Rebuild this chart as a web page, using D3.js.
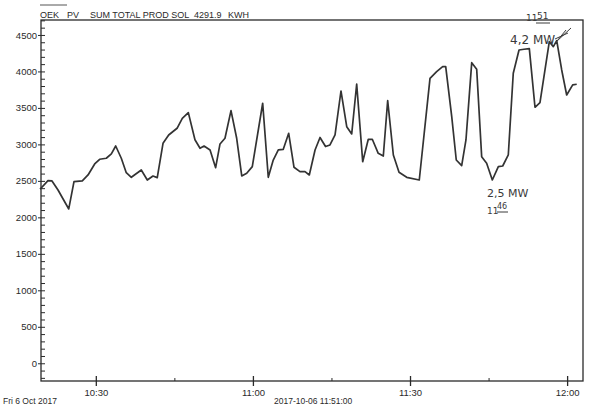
<!DOCTYPE html>
<html>
<head>
<meta charset="utf-8">
<script src="https://cdn.jsdelivr.net/npm/d3@7"></script>
<style>
  body { margin: 0; background: #fff; }
  svg text { font-family: "Liberation Sans", Arial, sans-serif; fill: #2a2a2a; }
  .hand { font-family: "DejaVu Sans", sans-serif; fill: #3a3a3a; }
</style>
</head>
<body>
<div id="chart"></div>
<script>
// readings (time of day, kW)
const times = [
  '10:19:21','10:20:52','10:21:38','10:22:47','10:24:50','10:25:50','10:27:25','10:28:31','10:29:47','10:30:44',
  '10:32:00','10:32:58','10:33:48','10:34:52','10:35:49','10:36:47','10:38:41','10:39:50','10:40:55','10:41:44',
  '10:42:50','10:43:55','10:45:31','10:46:31','10:47:40','10:48:56','10:49:54','10:50:40','10:51:49','10:52:53',
  '10:53:43','10:54:40','10:55:49','10:56:54','10:57:52','10:58:49','10:59:53','11:01:52','11:02:56','11:03:53',
  '11:04:51','11:05:48','11:06:50','11:07:51','11:08:59','11:09:57','11:10:46','11:11:52','11:12:49','11:13:52',
  '11:14:43','11:15:41','11:16:49','11:17:55','11:18:52','11:19:49','11:20:58','11:22:02','11:22:48','11:23:56',
  '11:24:54','11:25:44','11:26:49','11:27:54','11:29:22','11:31:46','11:33:49','11:35:05','11:36:14','11:36:49',
  '11:37:58','11:38:50','11:39:52','11:40:41','11:41:47','11:42:44','11:43:41','11:44:38','11:45:43','11:46:52',
  '11:47:42','11:48:46','11:49:43','11:50:49','11:51:46','11:52:47','11:53:52','11:54:49','11:56:36','11:57:22',
  '11:58:01','11:58:58','11:59:55','12:01:04','12:01:50'
];
const values = [
  2385, 2503, 2499, 2375, 2115, 2489, 2499, 2581, 2732, 2796,
  2810, 2869, 2978, 2810, 2612, 2549, 2649, 2512, 2567, 2544,
  3015, 3129, 3221, 3358, 3435, 3063, 2947, 2978, 2924, 2681,
  3006, 3084, 3462, 3084, 2567, 2604, 2695, 3564, 2549, 2786,
  2924, 2933, 3152, 2686, 2626, 2626, 2581, 2924, 3095, 2971,
  2992, 3129, 3732, 3243, 3143, 3828, 2763, 3070, 3070, 2878,
  2841, 3599, 2855, 2618, 2549, 2512, 3906, 3997, 4065, 4065,
  3380, 2786, 2708, 3061, 4120, 4030, 2832, 2741, 2512, 2695,
  2704, 2855, 3975, 4294, 4304, 4312, 3509, 3572, 4408, 4340,
  4422, 4020, 3677, 3815, 3824
];
const yTickValues = [0, 500, 1000, 1500, 2000, 2500, 3000, 3500, 4000, 4500];
const xTickLabels = ['10:30', '11:00', '11:30', '12:00'];
const xMinorLabels = ['10:45', '11:15', '11:45'];
const titleParts = ['OEK', 'PV', 'SUM TOTAL PROD SOL', '4291.9', 'KWH'];
const day = '2017-10-06';

const width = 589;
const height = 406;
const plot = { left: 41, right: 583, top: 20, bottom: 381 };

const parseTime = d3.timeParse('%Y-%m-%d %H:%M:%S');
const toDate = t => parseTime(day + ' ' + (t.length === 5 ? t + ':00' : t));

const svg = d3.select('#chart').append('svg')
  .attr('width', width)
  .attr('height', height);

svg.append('rect').attr('width', width).attr('height', height).attr('fill', '#fff');

const x = d3.scaleTime()
  .domain([toDate('10:19:32'), toDate('12:03:02')])
  .range([plot.left, plot.right]);

const y = d3.scaleLinear()
  .domain([-243, 4705])
  .range([plot.bottom, plot.top]);

// y axis: labelled majors crossing the line, minor every 100 on the inside
const yMinor = d3.range(-200, 4701, 100);
svg.append('g')
  .attr('transform', `translate(${plot.left},0)`)
  .call(d3.axisRight(y).tickValues(yMinor).tickSize(4).tickFormat(''))
  .call(g => g.select('.domain').remove());
svg.append('g')
  .attr('transform', `translate(${plot.left},0)`)
  .call(d3.axisLeft(y).tickValues(yTickValues).tickSize(3).tickPadding(1).tickFormat(d3.format('d')))
  .call(g => g.select('.domain').remove())
  .call(g => g.selectAll('text').style('font-size', '9.5px'));

// x axis
svg.append('g')
  .attr('transform', `translate(0,${plot.bottom})`)
  .call(d3.axisTop(x).tickValues(xMinorLabels.map(toDate)).tickSize(3).tickFormat(''))
  .call(g => g.select('.domain').remove());
svg.append('g')
  .attr('transform', `translate(0,${plot.bottom})`)
  .call(d3.axisBottom(x).tickValues(xTickLabels.map(toDate)).tickSize(5).tickPadding(3)
    .tickFormat(d3.timeFormat('%H:%M')))
  .call(g => g.select('.domain').remove())
  .call(g => g.selectAll('.tick line').attr('y1', -5).attr('stroke-width', 1.3))
  .call(g => g.selectAll('text').style('font-size', '9.5px'));

svg.selectAll('.tick line').attr('stroke', '#2a2a2a');

// frame
svg.append('rect')
  .attr('x', plot.left).attr('y', plot.top)
  .attr('width', plot.right - plot.left).attr('height', plot.bottom - plot.top)
  .attr('fill', 'none').attr('stroke', '#2a2a2a').attr('stroke-width', 1.3);

// series
const line = d3.line()
  .x((d, i) => x(toDate(times[i])))
  .y(d => y(d));

svg.append('path')
  .datum(values)
  .attr('d', line)
  .attr('fill', 'none')
  .attr('stroke', '#333')
  .attr('stroke-width', 1.7)
  .attr('stroke-linejoin', 'round');

// header
svg.append('line').attr('x1', 40).attr('x2', 67).attr('y1', 5).attr('y2', 5)
  .attr('stroke', '#555').attr('stroke-width', 1);
const titleX = [40, 67, 90, 194, 228];
svg.selectAll('.title').data(titleParts).join('text')
  .attr('class', 'title')
  .attr('x', (d, i) => titleX[i])
  .attr('y', 18)
  .style('font-size', '9px')
  .text(d => d);

// footer
svg.append('text').attr('x', 3).attr('y', 404).style('font-size', '8.5px').text('Fri 6 Oct 2017');
svg.append('text').attr('x', 274).attr('y', 404).style('font-size', '8.5px').text(day + ' 11:51:00');

// handwritten notes
const hand = svg.append('g');
hand.append('text').attr('class', 'hand').attr('x', 526).attr('y', 21).style('font-size', '9px').text('11');
hand.append('text').attr('class', 'hand').attr('x', 537).attr('y', 19).style('font-size', '9px').text('51');
hand.append('line').attr('x1', 536).attr('x2', 550).attr('y1', 23).attr('y2', 23).attr('stroke', '#3a3a3a');
hand.append('text').attr('class', 'hand').attr('x', 510).attr('y', 44).style('font-size', '12px').text('4,2 MW');
hand.append('path')
  .attr('d', 'M556,42 L571,28 M557,41 L566,30 M555,39 L568,33')
  .attr('fill', 'none').attr('stroke', '#3a3a3a').attr('stroke-width', 1);
hand.append('text').attr('class', 'hand').attr('x', 487).attr('y', 197).style('font-size', '11px').text('2,5 MW');
hand.append('text').attr('class', 'hand').attr('x', 487).attr('y', 214).style('font-size', '9px').text('11');
hand.append('text').attr('class', 'hand').attr('x', 497).attr('y', 209).style('font-size', '8px').text('46');
hand.append('line').attr('x1', 497).attr('x2', 508).attr('y1', 212).attr('y2', 212).attr('stroke', '#3a3a3a');
</script>
</body>
</html>
